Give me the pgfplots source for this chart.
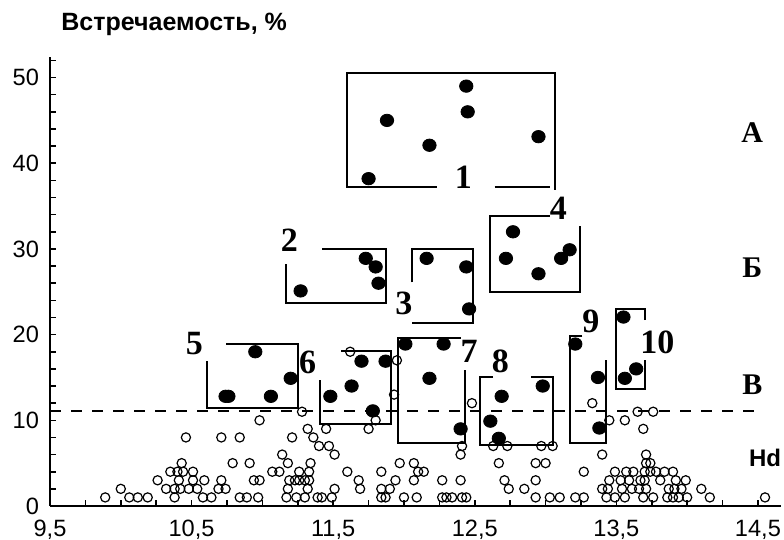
\documentclass[border=0pt]{standalone}
\usepackage{fontspec}
\setmainfont{Liberation Sans}
\newfontfamily\serif{Liberation Serif}
\usepackage{pgfplots}
\pgfplotsset{compat=1.18}
\begin{document}
\begin{tikzpicture}
\useasboundingbox (-25pt,-17pt) rectangle (367pt,253pt);
\begin{axis}[
  at={(0,0)}, anchor=south west, scale only axis,
  width=365.3pt, height=224.5pt,
  xmin=9.5, xmax=14.66, ymin=0, ymax=52.4,
  axis lines*=left,
  axis line style={line width=1pt, black},
  clip=false,
  xtick={9.5,10.5,11.5,12.5,13.5,14.5},
  xticklabels={{9,5},{10,5},{11,5},{12,5},{13,5},{14,5}},
  minor xtick={9.75,10,10.25,10.75,11,11.25,11.75,12,12.25,12.75,13,13.25,13.75,14,14.25},
  ytick={0,10,20,30,40,50},
  yticklabels={0,10,20,30,40,50},
  minor ytick={2,4,6,8,12,14,16,18,22,24,26,28,32,34,36,38,42,44,46,48,52},
  tick align=inside,
  major tick length=3pt, minor tick length=3pt,
  tick style={black, line width=0.8pt},
  ticklabel style={font=\fontsize{11.8}{13}\selectfont},
  xticklabel style={yshift=-3.5pt},
  yticklabel style={xshift=-2pt},
]
% dashed threshold
\addplot[black, line width=1pt, dash pattern=on 5.5pt off 5pt] coordinates {(9.5,11.05) (14.51,11.05)};

% boxes
\pgfplotsset{boxline/.style={black, line width=1pt, mark=none}}
\addplot[boxline] coordinates {(12.23,37.2) (11.60,37.2) (11.60,50.5) (13.07,50.5) (13.07,36.9)};
\addplot[boxline] coordinates {(12.64,37.2) (13.03,37.2)};
\addplot[boxline] coordinates {(11.167,28.2) (11.167,23.7) (11.87,23.7) (11.87,30.0) (11.42,30.0)};
\addplot[boxline] coordinates {(12.06,26.1) (12.06,30.0) (12.49,30.0) (12.49,21.4) (12.06,21.4)};
\addplot[boxline] coordinates {(13.03,33.8) (12.61,33.8) (12.61,25.0) (13.24,25.0) (13.24,32.7)};
\addplot[boxline] coordinates {(10.61,16.9) (10.61,11.4) (11.25,11.4) (11.25,18.9) (10.74,18.9)};
\addplot[boxline] coordinates {(11.41,14.7) (11.41,9.6) (11.91,9.6) (11.91,18.1) (11.555,18.1)};
\addplot[boxline] coordinates {(12.40,19.6) (11.96,19.6) (11.96,7.35) (12.43,7.35) (12.43,15.9)};
\addplot[boxline] coordinates {(12.63,15.05) (12.54,15.05) (12.54,7.1) (13.05,7.1) (13.05,15.05) (12.90,15.05)};
\addplot[boxline] coordinates {(13.26,19.8) (13.17,19.8) (13.17,7.35) (13.43,7.35) (13.43,17.0)};
\addplot[boxline] coordinates {(13.70,21.7) (13.70,23.0) (13.50,23.0) (13.50,13.65) (13.70,13.65) (13.70,17.0)};

% open circles (Hd)
\addplot[only marks, mark=o, mark size=2.3pt, mark options={fill=white, line width=0.6pt, black}] table {
x y
9.89 1
10.06 1
10.12 1
10.19 1
10.38 1
10.58 1
10.64 1
10.84 1
10.89 1
10.97 1
11.17 1
11.24 1
11.30 1
11.39 1
11.42 1
11.49 1
11.84 1
11.87 1
12.00 1
12.09 1
12.27 1
12.30 1
12.34 1
12.41 1
12.44 1
12.93 1
13.03 1
13.10 1
13.21 1
13.27 1
13.43 1
13.49 1
13.56 1
13.69 1
13.76 1
13.86 1
13.90 1
13.94 1
14.00 1
14.16 1
14.55 1
10.00 2
10.32 2
10.38 2
10.42 2
10.48 2
10.54 2
10.69 2
10.74 2
11.18 2
11.32 2
11.51 2
11.69 2
11.84 2
11.90 2
12.74 2
12.85 2
13.40 2
13.44 2
13.54 2
13.61 2
13.66 2
13.71 2
13.87 2
13.91 2
13.96 2
14.10 2
10.26 3
10.41 3
10.51 3
10.59 3
10.71 3
10.94 3
10.98 3
11.19 3
11.23 3
11.26 3
11.30 3
11.33 3
11.68 3
11.94 3
12.07 3
12.27 3
12.40 3
12.71 3
12.93 3
13.45 3
13.53 3
13.59 3
13.67 3
13.70 3
13.81 3
13.92 3
13.99 3
10.35 4
10.40 4
10.44 4
10.51 4
11.07 4
11.12 4
11.26 4
11.33 4
11.60 4
11.84 4
12.10 4
12.14 4
13.27 4
13.49 4
13.57 4
13.62 4
13.70 4
13.74 4
13.78 4
13.84 4
13.90 4
10.43 5
10.79 5
10.91 5
11.18 5
11.34 5
11.97 5
12.07 5
12.67 5
12.93 5
13.00 5
13.71 5
13.74 5
11.14 6
11.51 6
12.40 6
13.40 6
13.71 6
11.40 7
11.47 7
12.41 7
12.63 7
12.73 7
12.97 7
13.05 7
10.46 8
10.71 8
10.84 8
11.21 8
11.36 8
11.32 9
11.45 9
11.75 9
13.69 9
10.98 10
11.80 10
13.45 10
13.56 10
11.28 11
13.65 11
13.76 11
12.48 12
13.33 12
11.93 13
11.95 17
11.62 18
};

% filled dots
\addplot[only marks, mark=*, mark size=3.1pt, mark options={black, xscale=1.08}] table {
x y
11.75 38.2
11.88 45.0
12.18 42.1
12.44 49.0
12.45 46.0
12.95 43.1
11.27 25.1
11.73 28.9
11.80 27.9
11.82 26.0
12.16 28.9
12.44 27.9
12.46 23.0
12.77 32.0
12.72 28.9
12.95 27.1
13.11 28.9
13.17 29.9
10.95 18.0
10.74 12.8
10.76 12.8
11.06 12.8
11.20 14.9
11.48 12.8
11.63 14.0
11.70 16.9
11.87 16.9
11.78 11.1
12.01 18.9
12.28 18.9
12.18 14.9
12.40 9.0
12.69 12.8
12.61 9.9
12.67 7.9
12.98 14.0
13.21 18.9
13.37 15.0
13.38 9.1
13.55 22.05
13.56 14.9
13.64 16.0
};

% group numbers
\tikzset{num/.style={font=\serif\bfseries\fontsize{17}{18}\selectfont, inner sep=0pt}}
\node[num] at (axis cs:12.42,38.4) {1};
\node[num] at (axis cs:11.19,31.0) {2};
\node[num] at (axis cs:12.00,23.6) {3};
\node[num] at (axis cs:13.09,34.7) {4};
\node[num] at (axis cs:10.52,19.0) {5};
\node[num] at (axis cs:11.32,16.7) {6};
\node[num] at (axis cs:12.46,18.0) {7};
\node[num] at (axis cs:12.68,16.9) {8};
\node[num] at (axis cs:13.32,21.5) {9};
\node[num] at (axis cs:13.79,19.1) {10};
% classes
\tikzset{cls/.style={font=\serif\bfseries\fontsize{15}{16}\selectfont, inner sep=0pt}}
\node[cls] at (axis cs:14.46,43.6) {А};
\node[cls] at (axis cs:14.46,27.8) {Б};
\node[cls] at (axis cs:14.46,14.1) {В};
\node[font=\bfseries\fontsize{12}{13}\selectfont, inner sep=0pt] at (axis cs:14.55,5.6) {Hd};
% y title
\node[font=\bfseries\fontsize{12.5}{13}\selectfont, inner sep=0pt, anchor=base west] at (axis cs:9.578,55.46) {Встречаемость, \%};
\end{axis}
\end{tikzpicture}
\end{document}
